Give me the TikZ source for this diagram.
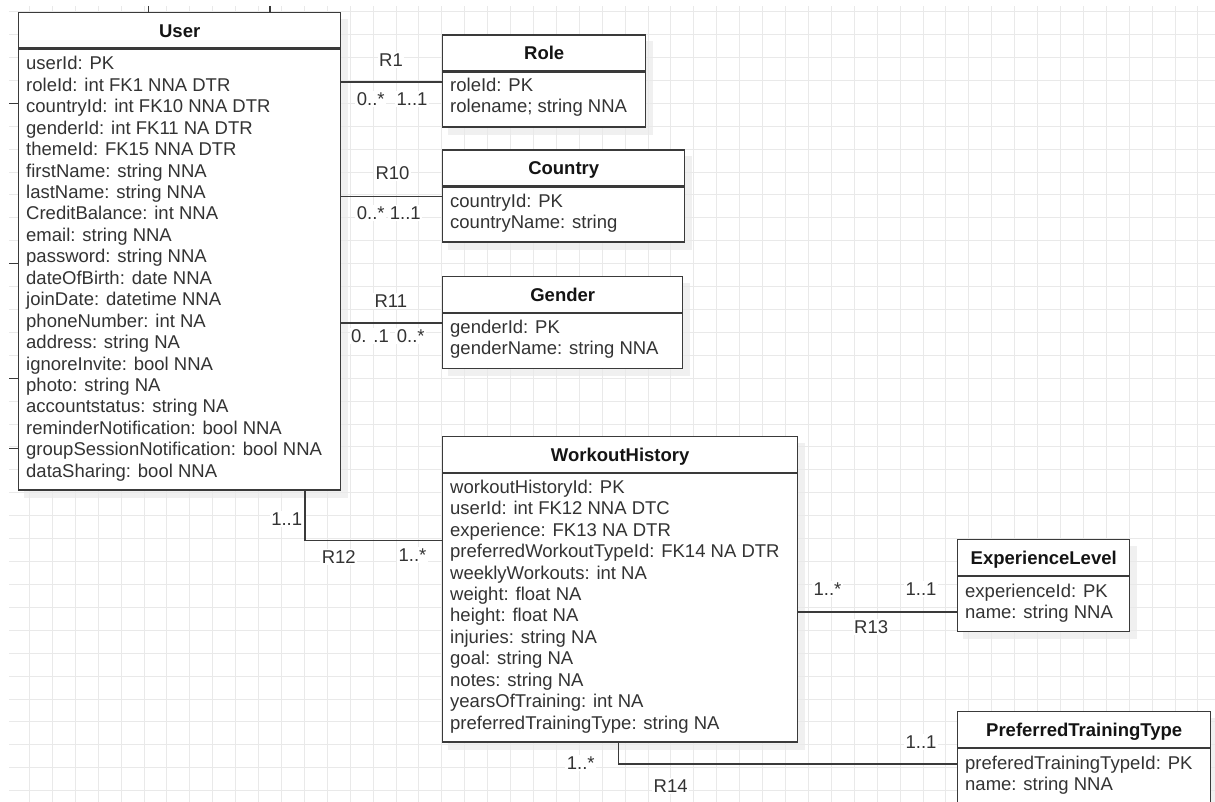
\documentclass[tikz,border=0pt]{standalone}
\usepackage{fontspec}
\setmainfont{Liberation Sans}
\usetikzlibrary{backgrounds}

\definecolor{gridc}{HTML}{E9E9E9}
\definecolor{edgec}{HTML}{3A3A3A}
\definecolor{txt}{HTML}{333333}
\definecolor{ttl}{HTML}{141414}
\newcommand\erfont{\fontsize{18.5}{21.44}\selectfont}

\tikzset{
  hdr/.style={draw=edgec, line width=1.4pt, fill=white, anchor=north west, inner sep=0pt,
    font=\erfont\bfseries, text=ttl, text height=13.2pt, text depth=0pt},
  body/.style={draw=edgec, line width=1.4pt, fill=white, anchor=north west, inner sep=0pt},
  boxshade/.style={fill=black, opacity=0.06},
  row/.style={anchor=base west, inner sep=0pt, font=\erfont, text=txt},
  conn/.style={draw=edgec, line width=1.4pt},
  lbl/.style={fill=white, inner sep=1.5pt, font=\erfont, text=txt, text height=13.2pt, text depth=0pt},
}

\begin{document}
\begin{tikzpicture}[x=1pt, y=-1pt]
  \useasboundingbox (0,0) rectangle (1215,802);
  \clip (0,0) rectangle (1215,802);

  % canvas grid
  \foreach \gx in {0,...,52}
    \draw[gridc, line width=1pt] ({29.5+22.91*\gx},6) -- ({29.5+22.91*\gx},802);
  \foreach \gy in {0,...,34}
    \draw[gridc, line width=1pt] (9,{11.7+22.91*\gy}) -- (1215,{11.7+22.91*\gy});

  % ---------- User ----------
  \node[hdr, minimum width=322, minimum height=35.5] (userH) at (18,12) {User};
  \node[body, minimum width=322, minimum height=440.5] (userB) at (userH.south west) {};
  \foreach \r [count=\i] in {userId: PK, roleId: int FK1 NNA DTR, countryId: int FK10 NNA DTR,
      genderId: int FK11 NA DTR, themeId: FK15 NNA DTR, firstName: string NNA,
      lastName: string NNA, CreditBalance: int NNA, email: string NNA, password: string NNA,
      dateOfBirth: date NNA, joinDate: datetime NNA, phoneNumber: int NA, address: string NA,
      ignoreInvite: bool NNA, photo: string NA, accountstatus: string NA,
      reminderNotification: bool NNA, groupSessionNotification: bool NNA, dataSharing: bool NNA}
    \node[row] (userR\i) at (26,{69.9+21.44*(\i-1)}) {\r};

  % ---------- Role ----------
  \node[hdr, minimum width=203, minimum height=35.5] (roleH) at (442,34.5) {Role};
  \node[body, minimum width=203, minimum height=55] (roleB) at (roleH.south west) {};
  \foreach \r [count=\i] in {roleId: PK, rolename; string NNA}
    \node[row] (roleR\i) at (450,{91.5+21.44*(\i-1)}) {\r};

  % ---------- Country ----------
  \node[hdr, minimum width=242, minimum height=35.5] (countryH) at (442,149.5) {Country};
  \node[body, minimum width=242, minimum height=55] (countryB) at (countryH.south west) {};
  \foreach \r [count=\i] in {countryId: PK, countryName: string}
    \node[row] (countryR\i) at (450,{207.2+21.44*(\i-1)}) {\r};

  % ---------- Gender ----------
  \node[hdr, minimum width=240, minimum height=35.5] (genderH) at (442,276) {Gender};
  \node[body, minimum width=240, minimum height=55] (genderB) at (genderH.south west) {};
  \foreach \r [count=\i] in {genderId: PK, genderName: string NNA}
    \node[row] (genderR\i) at (450,{333.2+21.44*(\i-1)}) {\r};

  % ---------- WorkoutHistory ----------
  \node[hdr, minimum width=355, minimum height=35.5] (whH) at (442,436) {WorkoutHistory};
  \node[body, minimum width=355, minimum height=268.5] (whB) at (whH.south west) {};
  \foreach \r [count=\i] in {workoutHistoryId: PK, userId: int FK12 NNA DTC, experience: FK13 NA DTR,
      preferredWorkoutTypeId: FK14 NA DTR, weeklyWorkouts: int NA, weight: float NA,
      height: float NA, injuries: string NA, goal: string NA, notes: string NA,
      yearsOfTraining: int NA, preferredTrainingType: string NA}
    \node[row] (whR\i) at (450,{493.2+21.45*(\i-1)}) {\r};

  % ---------- ExperienceLevel ----------
  \node[hdr, minimum width=172, minimum height=35.5] (elH) at (957,539) {ExperienceLevel};
  \node[body, minimum width=172, minimum height=55] (elB) at (elH.south west) {};
  \foreach \r [count=\i] in {experienceId: PK, name: string NNA}
    \node[row] (elR\i) at (965,{597.2+21.2*(\i-1)}) {\r};

  % ---------- PreferredTrainingType ----------
  \node[hdr, minimum width=253, minimum height=35.5] (pttH) at (957,711) {PreferredTrainingType};
  \node[body, minimum width=253, minimum height=70] (pttB) at (pttH.south west) {};
  \foreach \r [count=\i] in {preferedTrainingTypeId: PK, name: string NNA}
    \node[row] (pttR\i) at (965,{769.8+20.2*(\i-1)}) {\r};

  % soft shadows behind the entity boxes
  \begin{scope}[on background layer]
    \foreach \h/\b in {userH/userB, roleH/roleB, countryH/countryB, genderH/genderB,
                       whH/whB, elH/elB, pttH/pttB}
      \fill[boxshade] ([shift={(6pt,-7pt)}]\h.north west) rectangle ([shift={(7pt,-7pt)}]\b.south east);
  \end{scope}

  % ---------- relationships ----------
  \coordinate (r1) at ([yshift=-10.7pt]roleB.north west);
  \draw[conn] (r1 -| userB.east) -- (r1);
  \coordinate (r10) at ([yshift=-10pt]countryB.north west);
  \draw[conn] (r10 -| userB.east) -- (r10);
  \coordinate (r11) at ([yshift=-10.2pt]genderB.north west);
  \draw[conn] (r11 -| userB.east) -- (r11);
  \coordinate (r12) at ([yshift=-67.5pt]whB.north west);
  \draw[conn] ([xshift=287pt]userB.south west) |- (r12);
  \coordinate (r13) at ([yshift=-36.2pt]elB.north west);
  \draw[conn] (r13 -| whB.east) -- (r13);
  \coordinate (r14) at ([yshift=-16.2pt]pttB.north west);
  \draw[conn] ([xshift=176.3pt]whB.south west) |- (r14);

  % connectors entering User from beyond the visible canvas
  \foreach \sy [count=\i] in {103.3,263.3,378.3,448.3} {
    \coordinate (inL\i) at (9,\sy);
    \draw[conn] (inL\i) -- (inL\i -| userB.west);
  }
  \foreach \sx [count=\i] in {148.3,270} {
    \coordinate (inT\i) at (\sx,6);
    \draw[conn] (inT\i) -- (inT\i |- userH.north);
  }

  % ---------- relationship labels ----------
  \node[lbl] (lR1)  at (391,60)    {R1};
  \node[lbl] (lR1a) at (370.8,99.3) {0..*};
  \node[lbl] (lR1b) at (412,99.3)   {1..1};

  \node[lbl] (lR10)  at (392.5,172.7) {R10};
  \node[lbl] (lR10a) at (370.8,213.3) {0..*};
  \node[lbl] (lR10b) at (405.3,213.3) {1..1};

  \node[lbl] (lR11)  at (390.8,300.7) {R11};
  \node[lbl] (lR11a) at (370,336)     {0. .1};
  \node[lbl] (lR11b) at (410.8,336)   {0..*};

  \node[lbl] (lR12a) at (286.7,519.3) {1..1};
  \node[lbl] (lR12)  at (338.8,556.7) {R12};
  \node[lbl] (lR12b) at (412.5,555)   {1..*};

  \node[lbl] (lR13a) at (827.5,589)   {1..*};
  \node[lbl] (lR13b) at (921,589)     {1..1};
  \node[lbl] (lR13)  at (871.2,627.3) {R13};

  \node[lbl] (lR14a) at (580.8,763.3) {1..*};
  \node[lbl] (lR14)  at (670.7,785.7) {R14};
  \node[lbl] (lR14b) at (921,741.7)   {1..1};
\end{tikzpicture}
\end{document}
